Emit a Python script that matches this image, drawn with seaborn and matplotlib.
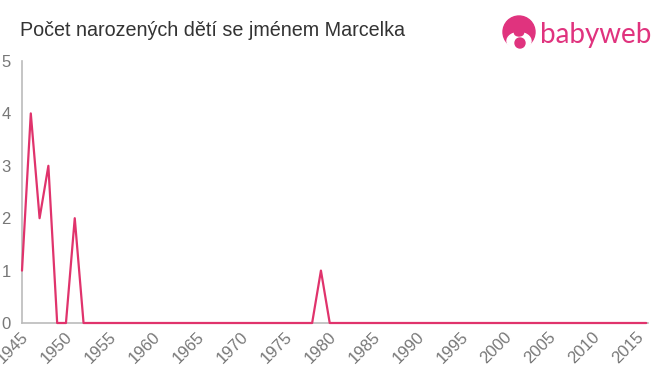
import matplotlib
matplotlib.use("Agg")
import matplotlib.pyplot as plt
import matplotlib.transforms as mtransforms
import seaborn as sns
import pandas as pd
from matplotlib.patches import Circle, Ellipse

years = list(range(1945, 2017))
counts = [1, 4, 2, 3, 0, 0, 2, 0, 0, 0,
          0, 0, 0, 0, 0, 0, 0, 0, 0, 0,
          0, 0, 0, 0, 0, 0, 0, 0, 0, 0,
          0, 0, 0, 0, 1, 0, 0, 0, 0, 0,
          0, 0, 0, 0, 0, 0, 0, 0, 0, 0,
          0, 0, 0, 0, 0, 0, 0, 0, 0, 0,
          0, 0, 0, 0, 0, 0, 0, 0, 0, 0,
          0, 0]
x_ticks = list(range(1945, 2016, 5))
y_ticks = [0, 1, 2, 3, 4, 5]
title = "Počet narozených dětí se jménem Marcelka"

sns.set_style("white")
plt.rcParams['font.family'] = ['Liberation Sans', 'DejaVu Sans']

df = pd.DataFrame({"year": years, "count": counts})

fig = plt.figure(figsize=(6.6, 3.75), dpi=100)
ax = fig.add_axes([22/660, 1-323/375, (648-22)/660, (323-61)/375])
sns.lineplot(data=df, x="year", y="count", ax=ax, color="#e0336c", linewidth=1.6, clip_on=False, zorder=5)

ax.set_xlim(1945, 2016.2)
ax.set_ylim(0, 5)
ax.set_xticks(x_ticks)
ax.set_xticklabels([str(t) for t in x_ticks], rotation=45, ha="right", va="center", rotation_mode="anchor")
ax.set_yticks(y_ticks)
ax.set_xlabel("")
ax.set_ylabel("")
for s in ["top", "right"]:
    ax.spines[s].set_visible(False)
for s in ["left", "bottom"]:
    ax.spines[s].set_color("#bbbbbb")
    ax.spines[s].set_linewidth(1.2)
ax.tick_params(axis="both", colors="#bbbbbb", labelcolor="#777777", labelsize=12,
               length=4, width=1.2, direction="out", pad=4)
ax.tick_params(axis="x", pad=4)
offset = mtransforms.ScaledTranslation(4/100, 0, fig.dpi_scale_trans)
for lab in ax.get_xticklabels():
    lab.set_transform(lab.get_transform() + offset)

fig.text(20/660, 1-31/375, title, fontsize=14.2, color="#333333", va="center", ha="left")

# logo overlay in pixel coordinates
lax = fig.add_axes([0, 0, 1, 1], zorder=10)
lax.set_xlim(0, 660)
lax.set_ylim(375, 0)
lax.axis("off")
logo_color = "#e0337e"
lax.add_patch(Circle((519, 32), 16, color=logo_color))
lax.add_patch(Ellipse((519, 41), 24, 17, color="white"))
lax.add_patch(Ellipse((519, 33), 9, 6, color=logo_color))
lax.add_patch(Circle((520, 43), 5, color=logo_color))
lax.text(540, 35, "babyweb", fontsize=20, color=logo_color, va="center", ha="left",
         family=["Lato", "DejaVu Sans"])

fig.savefig("out.png", dpi=100)
